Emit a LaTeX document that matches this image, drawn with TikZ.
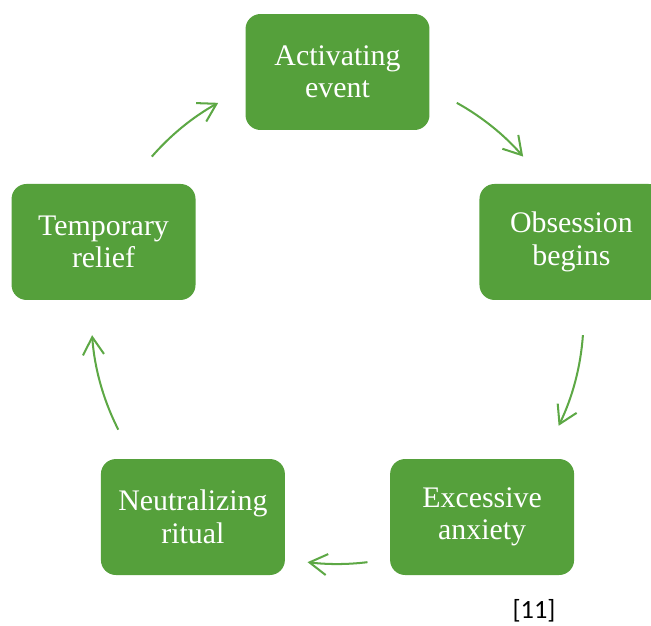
\documentclass[tikz,border=0pt]{standalone}
\usepackage{fontspec}
\setmainfont{Liberation Serif}
\newfontfamily\citefont{Carlito}
\usetikzlibrary{arrows.meta,calc}
\definecolor{boxgreen}{HTML}{55A03B}
\definecolor{arrowgreen}{HTML}{5DA845}

\begin{document}
\begin{tikzpicture}[
    x=0.02cm, y=0.02cm,
    stagebox/.style={
      fill=boxgreen, rounded corners=0.3cm,
      minimum width=3.68cm, minimum height=2.32cm, inner sep=0pt,
      text=white, align=center, font=\fontsize{17}{18.5}\selectfont
    },
    cyclearr/.style={-{Straight Barb[length=10pt,width=12pt]}, line width=1.15pt, arrowgreen},
  ]
  \useasboundingbox (0,0) rectangle (651,625);
  \coordinate (hub) at (337.5,307);

  % =================== Stages ===================
  \foreach \name/\ang/\txt in {act/90/Activating\\event, obs/18/Obsession\\begins,
      exc/-54/Excessive\\anxiety, neu/-126/Neutralizing\\ritual, tmp/162/Temporary\\relief}
    \node[stagebox] (\name) at ($(hub)+(\ang:246)$) {\txt};

  % =================== Cycle arrows ===================
  \foreach \name/\from/\to in {act/61/41, obs/-4/-26, exc/-83/-97, neu/-153/-176, tmp/139/119} {
    \coordinate (\name-out) at ($(hub)+(\from:246)$);
    \draw[cyclearr] (\name-out) arc[start angle=\from, end angle=\to, radius=4.92cm];
  }

  % Citation
  \node[font=\citefont\fontsize{15}{18}\selectfont] (cite) at (534,14) {[11]};

\end{tikzpicture}
\end{document}
